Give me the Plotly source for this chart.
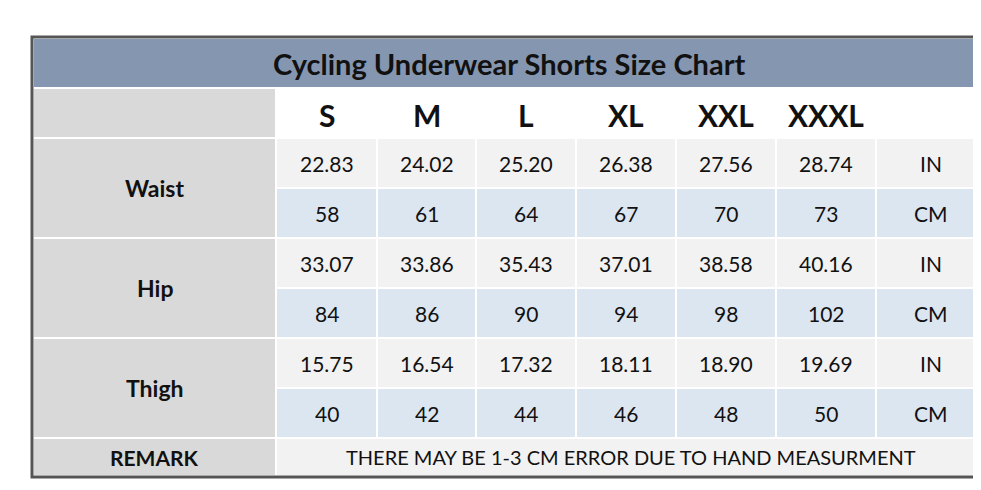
import plotly.graph_objects as go

TITLE = "Cycling Underwear Shorts Size Chart"
SIZES = ["S", "M", "L", "XL", "XXL", "XXXL"]
MEASURES = ["Waist", "Hip", "Thigh"]
UNITS = ["IN", "CM"]
WAIST_IN = ["22.83", "24.02", "25.20", "26.38", "27.56", "28.74"]
WAIST_CM = ["58", "61", "64", "67", "70", "73"]
HIP_IN = ["33.07", "33.86", "35.43", "37.01", "38.58", "40.16"]
HIP_CM = ["84", "86", "90", "94", "98", "102"]
THIGH_IN = ["15.75", "16.54", "17.32", "18.11", "18.90", "19.69"]
THIGH_CM = ["40", "42", "44", "46", "48", "50"]
REMARK_LABEL = "REMARK"
REMARK = "THERE MAY BE 1-3 CM ERROR DUE TO HAND MEASURMENT"

rows = [WAIST_IN, WAIST_CM, HIP_IN, HIP_CM, THIGH_IN, THIGH_CM]

# layout geometry (page pixel units)
X0, X1 = 17, 969
col_edges = [260, 361, 460, 560, 660, 760, 860, X1]  # size + unit columns
Y_TITLE = (22, 72)
Y_HEAD = (72, 122)
ROW_H = 50
Y_REMARK = (422, 460)
PAGE_OFFSET = 8  # body margin of the html page

FONT = "Lato"
TITLE_BG = "#8596b0"
LABEL_BG = "#d9d9d9"
IN_BG = "#f2f2f2"
CM_BG = "#dce6f1"
GRID = "white"

shapes, annos = [], []

def rect(x0, y0, x1, y1, fill):
    shapes.append(dict(type="rect", xref="x", yref="y", x0=x0, y0=y0, x1=x1, y1=y1,
                       fillcolor=fill, line=dict(color=GRID, width=2), layer="below"))

def text(x, y, s, size, bold=False):
    annos.append(dict(x=x, y=y, xref="x", yref="y", text=f"<b>{s}</b>" if bold else s,
                      showarrow=False, font=dict(family=FONT, size=size, color="#111")))

# title
rect(X0, Y_TITLE[0], X1, Y_TITLE[1], TITLE_BG)
text((X0 + X1) / 2, sum(Y_TITLE) / 2, TITLE, 29, bold=True)

# header
rect(X0, Y_HEAD[0], col_edges[0], Y_HEAD[1], LABEL_BG)
for i in range(len(col_edges) - 1):
    rect(col_edges[i], Y_HEAD[0], col_edges[i + 1], Y_HEAD[1], "white")
    if i < len(SIZES):
        text((col_edges[i] + col_edges[i + 1]) / 2, sum(Y_HEAD) / 2 + 2, SIZES[i], 30, bold=True)

# body
for r, vals in enumerate(rows):
    y0 = Y_HEAD[1] + r * ROW_H
    y1 = y0 + ROW_H
    bg = IN_BG if r % 2 == 0 else CM_BG
    for i in range(len(col_edges) - 1):
        rect(col_edges[i], y0, col_edges[i + 1], y1, bg)
        s = vals[i] if i < len(vals) else UNITS[r % 2]
        text((col_edges[i] + col_edges[i + 1]) / 2, (y0 + y1) / 2, s, 21)
    if r % 2 == 0:
        rect(X0, y0, col_edges[0], y0 + 2 * ROW_H, LABEL_BG)
        text((X0 + col_edges[0]) / 2, y0 + ROW_H, MEASURES[r // 2], 23, bold=True)

# remark
rect(X0, Y_REMARK[0], col_edges[0], Y_REMARK[1], LABEL_BG)
rect(col_edges[0], Y_REMARK[0], X1, Y_REMARK[1], IN_BG)
text((X0 + col_edges[0]) / 2, sum(Y_REMARK) / 2, REMARK_LABEL, 21, bold=True)
text((col_edges[0] + X1) / 2, sum(Y_REMARK) / 2, REMARK, 20)

# outer border
shapes.append(dict(type="rect", xref="x", yref="y", x0=X0 - 1, y0=Y_TITLE[0] - 1, x1=X1 + 1, y1=Y_REMARK[1] + 1,
                   line=dict(color="#555", width=3), fillcolor="rgba(0,0,0,0)"))

fig = go.Figure()
fig.update_layout(
    width=981, height=490, margin=dict(l=0, r=0, t=0, b=0),
    paper_bgcolor="white", plot_bgcolor="white",
    xaxis=dict(range=[-PAGE_OFFSET, 981 - PAGE_OFFSET], visible=False, fixedrange=True),
    yaxis=dict(range=[490 - PAGE_OFFSET, -PAGE_OFFSET], visible=False, fixedrange=True),
    shapes=shapes, annotations=annos, showlegend=False,
)
fig.write_html("out.html")
